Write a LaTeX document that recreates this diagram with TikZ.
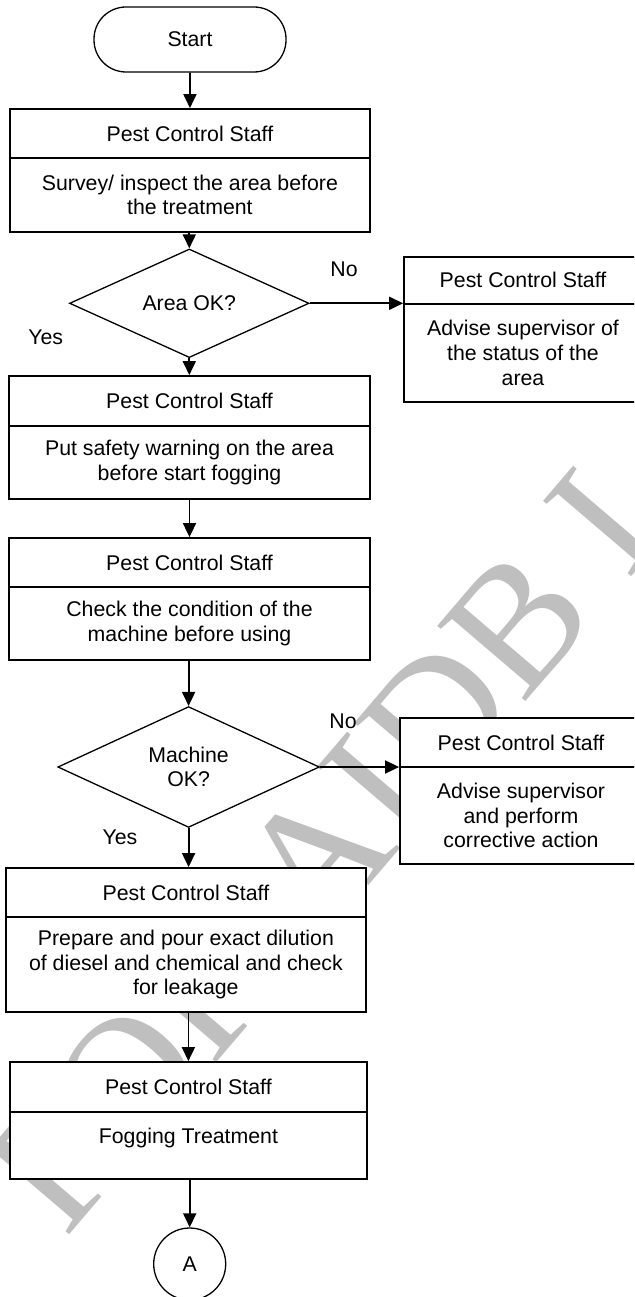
\documentclass[tikz,border=0pt]{standalone}
\usepackage{fontspec}
\setmainfont{Liberation Sans}
\newfontfamily\wmfont{Liberation Serif}
\usetikzlibrary{arrows.meta,shapes.geometric}

\begin{document}
\begin{tikzpicture}[x=1pt,y=-1pt,
  txt/.style={font=\fontsize{21.3}{24.7}\selectfont, align=center},
  boxpart/.style={txt, draw, line width=1.8pt, fill=white, inner sep=0pt},
  decision/.style={txt, diamond, draw, line width=1.3pt, fill=white, inner sep=0pt},
  terminal/.style={txt, draw, line width=1.3pt, fill=white, rounded corners=32pt, inner sep=0pt},
  connector/.style={txt, circle, draw, line width=1.3pt, fill=white, inner sep=0pt, minimum size=72pt},
  arr/.style={draw=black, line width=1.8pt, -{Triangle[length=14pt,width=13pt,fill=black]}},
  lbl/.style={txt}
]
\useasboundingbox (0,0) rectangle (634,1297);
\fill[white] (0,0) rectangle (634,1297);

% watermark behind the chart
\begin{scope}
\clip (0,0) rectangle (634,1297);
\node[rotate=49.5, text=black!25, inner sep=0pt,
      font=\wmfont\fontsize{177}{177}\selectfont] (wm) at (322,851) {FOR AIDB I};
\end{scope}

% start
\node[terminal, minimum width=192pt, minimum height=65pt] (start) at (190,39.5) {Start};

% step 1
\node[boxpart, minimum width=360.3pt, minimum height=49pt] (h1) at (189.9,133.5) {Pest Control Staff};
\node[boxpart, minimum width=360.3pt, minimum height=74pt] (b1) at (189.9,195) {Survey/ inspect the area before\\the treatment};

% decision 1
\node[decision, minimum width=239.5pt, minimum height=73.3pt] (d1) at (189.3,303.3) {Area OK?};
\node[lbl] (no1) at (344,269) {No};
\node[lbl] (yes1) at (45.7,337) {Yes};

% side box 1 (runs past the right edge)
\begin{scope}
\clip (0,0) rectangle (634,1297);
\node[boxpart, minimum width=238pt, minimum height=47.3pt] (r1h) at (523,280.3) {Pest Control Staff};
\node[boxpart, minimum width=238pt, minimum height=97.7pt] (r1b) at (523,352.85) {Advise supervisor of\\the status of the\\area};
\end{scope}

% step 2
\node[boxpart, minimum width=361pt, minimum height=50pt] (h2) at (189.5,401) {Pest Control Staff};
\node[boxpart, minimum width=361pt, minimum height=73pt] (b2) at (189.5,462.5) {Put safety warning on the area\\before start fogging};

% step 3
\node[boxpart, minimum width=361pt, minimum height=49pt] (h3) at (189.5,562.5) {Pest Control Staff};
\node[boxpart, minimum width=361pt, minimum height=73pt] (b3) at (189.5,623.5) {Check the condition of the\\machine before using};

% decision 2
\node[decision, minimum width=261.6pt, minimum height=114pt] (d2) at (188.6,767) {Machine\\OK?};
\node[lbl] (no2) at (343,721) {No};
\node[lbl] (yes2) at (120,837) {Yes};

% side box 2 (runs past the right edge)
\begin{scope}
\clip (0,0) rectangle (634,1297);
\node[boxpart, minimum width=242pt, minimum height=49pt] (r2h) at (521,742.5) {Pest Control Staff};
\node[boxpart, minimum width=242pt, minimum height=97pt] (r2b) at (521,815.5) {Advise supervisor\\and perform\\corrective action};
\end{scope}

% step 4
\node[boxpart, minimum width=360.3pt, minimum height=49pt] (h4) at (185.9,892.5) {Pest Control Staff};
\node[boxpart, minimum width=360.3pt, minimum height=95pt] (b4) at (185.9,964.5) {Prepare and pour exact dilution\\of diesel and chemical and check\\for leakage};

% step 5
\node[boxpart, minimum width=357.3pt, minimum height=50pt] (h5) at (188.4,1087) {Pest Control Staff};
\node[boxpart, minimum width=357.3pt, minimum height=67pt, text depth=19pt] (b5) at (188.4,1145.5) {Fogging Treatment};

% off-page connector
\node[connector] (conA) at (189.7,1264) {A};

% flow
\draw[arr] (start) -- (h1);
\draw[arr] (b1.south -| d1.north) -- (d1.north);
\draw[arr] (d1.east) -- (d1.east -| r1h.west);
\draw[arr] (d1.south) -- (d1.south |- h2.north);
\draw[arr] (b2.south) -- (h3.north);
\draw[arr] (b3.south -| d2.north) -- (d2.north);
\draw[arr] (d2.east) -- (d2.east -| r2h.west);
\draw[arr] (d2.south) -- (d2.south |- h4.north);
\draw[arr] (b4.south -| h5.north) -- (h5.north);
\draw[arr] (b5.south -| conA.north) -- (conA.north);
\end{tikzpicture}
\end{document}
